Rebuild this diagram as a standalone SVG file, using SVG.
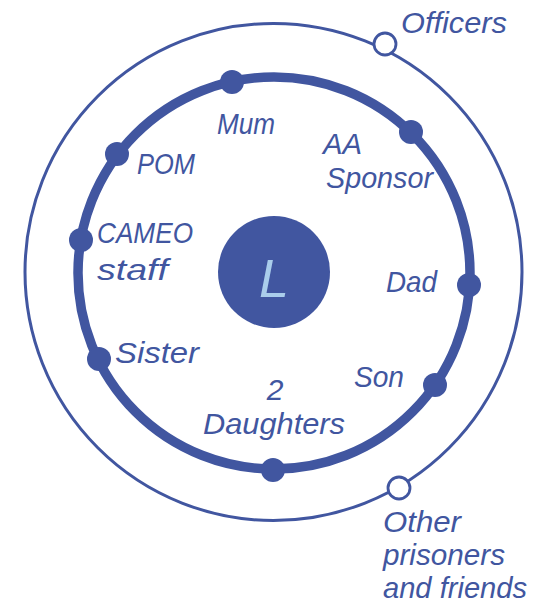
<svg xmlns="http://www.w3.org/2000/svg" width="540" height="608" viewBox="0 0 540 608">
<style>
.t{font-family:"Liberation Sans","DejaVu Sans",sans-serif;font-style:italic;font-size:30px;fill:#4156a0}
.dot{fill:#4156a0}
.open{fill:#ffffff;stroke:#4156a0;stroke-width:2.8}
</style>
<rect width="540" height="608" fill="#ffffff"/>
<g id="connectors">
<circle cx="273.5" cy="272" r="248.5" fill="none" stroke="#4156a0" stroke-width="3"/>
<circle cx="274" cy="273" r="196" fill="none" stroke="#4156a0" stroke-width="9.5"/>
</g>
<g id="center">
<circle cx="274" cy="272" r="56" fill="#4156a0"/>
<text x="274" y="297" text-anchor="middle" style="font-family:'Liberation Sans',sans-serif;font-style:italic;font-size:54px;fill:#aacdeb">L</text>
</g>
<g id="officers"><circle class="open" cx="385" cy="44" r="11"/><text class="t" x="401" y="33" textLength="106" lengthAdjust="spacingAndGlyphs">Officers</text></g>
<g id="others"><circle class="open" cx="399" cy="488" r="11"/>
<text class="t" x="383" y="532" textLength="78" lengthAdjust="spacingAndGlyphs">Other</text>
<text class="t" x="383" y="565" textLength="122" lengthAdjust="spacingAndGlyphs">prisoners</text>
<text class="t" x="383" y="598" textLength="144" lengthAdjust="spacingAndGlyphs">and friends</text></g>
<g id="mum"><circle class="dot" cx="232" cy="82" r="12"/><text class="t" x="217" y="134" textLength="58" lengthAdjust="spacingAndGlyphs">Mum</text></g>
<g id="aa-sponsor"><circle class="dot" cx="411" cy="132" r="12"/>
<text class="t" x="323" y="154" textLength="39" lengthAdjust="spacingAndGlyphs">AA</text>
<text class="t" x="326" y="188" textLength="107" lengthAdjust="spacingAndGlyphs">Sponsor</text></g>
<g id="dad"><circle class="dot" cx="469" cy="285" r="12"/><text class="t" x="386" y="292" textLength="51" lengthAdjust="spacingAndGlyphs">Dad</text></g>
<g id="son"><circle class="dot" cx="435" cy="385" r="12"/><text class="t" x="354" y="387" textLength="50" lengthAdjust="spacingAndGlyphs">Son</text></g>
<g id="daughters"><circle class="dot" cx="273" cy="470" r="12"/>
<text class="t" x="275" y="400" text-anchor="middle">2</text>
<text class="t" x="203" y="434" textLength="142" lengthAdjust="spacingAndGlyphs">Daughters</text></g>
<g id="sister"><circle class="dot" cx="99" cy="359" r="12"/><text class="t" x="115" y="363" textLength="84" lengthAdjust="spacingAndGlyphs">Sister</text></g>
<g id="cameo"><circle class="dot" cx="81" cy="240" r="12"/>
<text class="t" x="97" y="243" textLength="96" lengthAdjust="spacingAndGlyphs">CAMEO</text>
<text class="t" x="97" y="280" textLength="71" lengthAdjust="spacingAndGlyphs">staff</text></g>
<g id="pom"><circle class="dot" cx="117" cy="154" r="12"/><text class="t" x="137" y="174" textLength="58" lengthAdjust="spacingAndGlyphs">POM</text></g>
</svg>
